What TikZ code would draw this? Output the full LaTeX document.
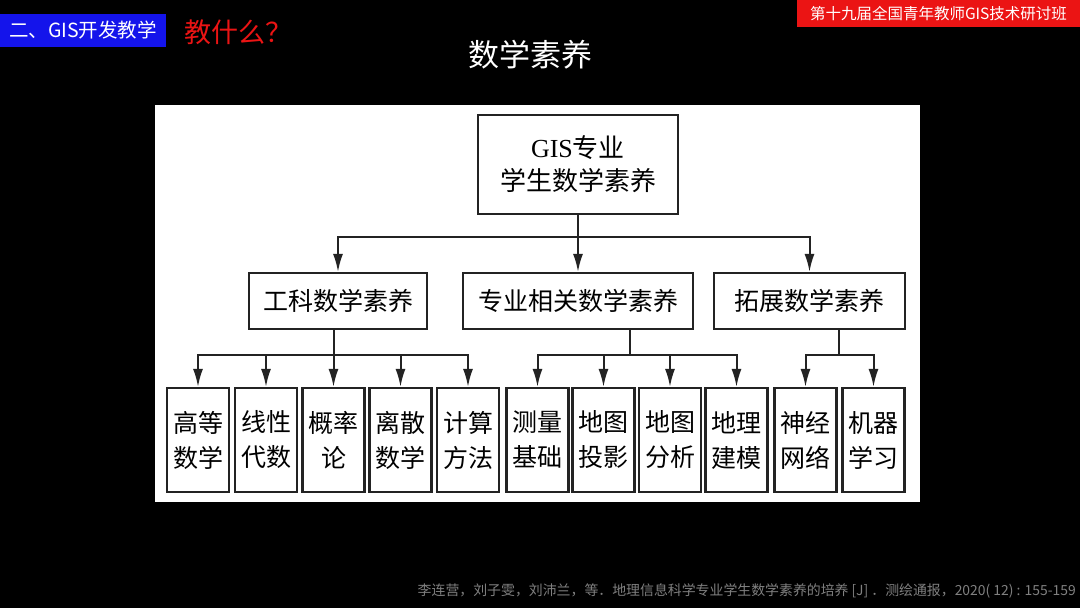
\documentclass[tikz,border=0pt]{standalone}
\usepackage{fontspec}
\setmainfont{Liberation Serif}
\newfontfamily\cjk{Noto Sans CJK SC}
\usepackage{xcolor}
\usepackage{tikz}
\usetikzlibrary{arrows.meta, positioning, calc}

\definecolor{hdblue}{RGB}{20,20,235}
\definecolor{hdred}{RGB}{235,20,20}
\definecolor{citegray}{RGB}{128,128,128}
\definecolor{boxline}{RGB}{35,35,35}

\tikzset{
    box/.style={draw=boxline, line width=2.2pt, fill=white, inner sep=0pt, align=center},
    topbox/.style={box, minimum width=200pt, minimum height=99pt, font=\cjk\fontsize{26}{33}\selectfont},
    midbox/.style={box, minimum height=56pt, font=\cjk\fontsize{25}{30}\selectfont},
    leafbox/.style={box, minimum width=62pt, minimum height=104pt, font=\cjk\fontsize{25}{35}\selectfont},
    arr/.style={draw=boxline, line width=2pt, -{Latex[length=18pt,width=10pt]}},
    ln/.style={draw=boxline, line width=2pt},
}

\begin{document}
\begin{tikzpicture}[x=1pt, y=1pt]
% slide background
\fill[black] (0,0) rectangle (1080,-608);
\useasboundingbox (0,0) rectangle (1080,-608);

% header
\node[fill=hdblue, text=white, minimum width=166pt, minimum height=33pt, inner sep=0pt,
    font=\cjk\fontsize{19.5}{22}\selectfont] (sec) at (83,-30) {二、GIS开发教学};
\node[text=hdred, anchor=west, inner sep=0pt, font=\cjk\fontsize{27}{30}\selectfont] (ask)
    at (184,-32) {教什么？};
\node[fill=hdred, text=white, minimum width=283pt, minimum height=27pt, inner sep=0pt,
    font=\cjk\fontsize{15.5}{18}\selectfont] (conf) at (938.5,-13.5) {第十九届全国青年教师GIS技术研讨班};
\node[text=white, font=\cjk\fontsize{31}{34}\selectfont] (title) at (530,-55) {数学素养};

% figure panel
\fill[white] (155,-105) rectangle (920,-502);

\node[topbox] (root) at (578,-164.5) {{\rmfamily GIS}专业\\学生数学素养};

\node[midbox, minimum width=178pt] (gk) at (338,-301) {工科数学素养};
\node[midbox, minimum width=230pt] (zy) at (578,-301) {专业相关数学素养};
\node[midbox, minimum width=191pt] (tz) at (809.5,-301) {拓展数学素养};

\node[leafbox] (gs) at (198,-440) {高等\\数学};
\node[leafbox] (xd) at (266,-440) {线性\\代数};
\node[leafbox] (gl) at (333.5,-440) {概率\\论};
\node[leafbox] (ls) at (400.5,-440) {离散\\数学};
\node[leafbox] (js) at (468,-440) {计算\\方法};
\node[leafbox] (cl) at (537.5,-440) {测量\\基础};
\node[leafbox] (ty) at (603.5,-440) {地图\\投影};
\node[leafbox] (fx) at (670,-440) {地图\\分析};
\node[leafbox] (jm) at (736.5,-440) {地理\\建模};
\node[leafbox] (sj) at (805.5,-440) {神经\\网络};
\node[leafbox] (jq) at (873.5,-440) {机器\\学习};

% connectors
\coordinate (rootbus) at (578,-237);
\coordinate (zybus) at (630,-355);
\coordinate (tzbus) at (839,-355);

\draw[arr] (root) -- (zy);
\draw[arr] (rootbus) -| (gk);
\draw[arr] (rootbus) -| (tz);

\draw[arr] (gl |- gk.south) -- (gl);
\draw[arr] (gl |- zybus) -| (gs);
\draw[arr] (gl |- zybus) -| (xd);
\draw[arr] (gl |- zybus) -| (ls);
\draw[arr] (gl |- zybus) -| (js);

\draw[ln] (zybus |- zy.south) -- (zybus);
\draw[arr] (zybus) -| (cl);
\draw[arr] (zybus) -| (ty);
\draw[arr] (zybus) -| (fx);
\draw[arr] (zybus) -| (jm);

\draw[ln] (tzbus |- tz.south) -- (tzbus);
\draw[arr] (tzbus) -| (sj);
\draw[arr] (tzbus) -| (jq);

% source
\node[text=citegray, anchor=east, inner sep=0pt, font=\cjk\fontsize{13.9}{17}\selectfont] (cite)
    at (1076,-591) {李连营，刘子雯，刘沛兰，等．地理信息科学专业学生数学素养的培养 [J] ．测绘通报，2020( 12) : 155-159};
\end{tikzpicture}
\end{document}
